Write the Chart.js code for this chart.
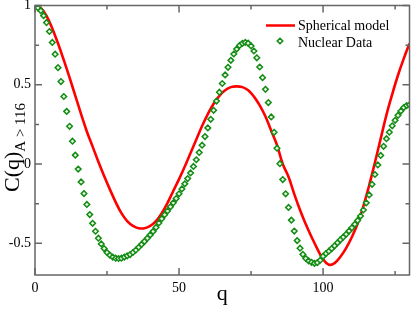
<!DOCTYPE html>
<html>
<head>
<meta charset="utf-8">
<script src="https://cdn.jsdelivr.net/npm/chart.js@4.4.1/dist/chart.umd.min.js"></script>
<style>
  html, body { margin: 0; padding: 0; background: #fff; }
  #wrap { width: 415px; height: 310px; }
</style>
</head>
<body>
<div id="wrap"><canvas id="corr"></canvas></div>
<script>
// Spherical model (red curve)
const qModel = [0, 2, 4, 6, 8, 10, 12, 14, 16, 18, 20, 22, 24, 26, 28, 30, 32, 34, 36, 38,
  40, 42, 44, 46, 48, 50, 52, 54, 56, 58, 60, 62, 64, 66, 68, 70, 72, 74, 76, 78,
  80, 82, 84, 86, 88, 90, 92, 94, 96, 98, 100, 102, 104, 106, 108, 110, 112, 114, 116, 118,
  120, 122, 124, 126, 128, 130];
const cModel = [1.0, 0.985, 0.935, 0.855, 0.76, 0.655, 0.545, 0.43, 0.315, 0.205, 0.11, 0.015, -0.075, -0.16, -0.24, -0.31, -0.36, -0.39, -0.405, -0.405,
  -0.39, -0.36, -0.31, -0.245, -0.17, -0.095, -0.015, 0.07, 0.155, 0.24, 0.315, 0.38, 0.43, 0.465, 0.485, 0.49, 0.485, 0.465, 0.425, 0.37,
  0.3, 0.21, 0.12, 0.0, -0.08, -0.19, -0.29, -0.38, -0.46, -0.535, -0.6, -0.635, -0.625, -0.585, -0.53, -0.46, -0.375, -0.265, -0.135, 0.01,
  0.16, 0.31, 0.44, 0.56, 0.665, 0.76];

// Nuclear data (green diamonds)
const qData = [0, 1, 2, 3, 4, 5, 6, 7, 8, 9, 10, 11, 12, 13, 14, 15, 16, 17, 18, 19,
  20, 21, 22, 23, 24, 25, 26, 27, 28, 29, 30, 31, 32, 33, 34, 35, 36, 37, 38, 39,
  40, 41, 42, 43, 44, 45, 46, 47, 48, 49, 50, 51, 52, 53, 54, 55, 56, 57, 58, 59,
  60, 61, 62, 63, 64, 65, 66, 67, 68, 69, 70, 71, 72, 73, 74, 75, 76, 77, 78, 79,
  80, 81, 82, 83, 84, 85, 86, 87, 88, 89, 90, 91, 92, 93, 94, 95, 96, 97, 98, 99,
  100, 101, 102, 103, 104, 105, 106, 107, 108, 109, 110, 111, 112, 113, 114, 115, 116, 117, 118, 119,
  120, 121, 122, 123, 124, 125, 126, 127, 128, 129, 130];
const cData = [1.0, 0.985, 0.967, 0.936, 0.892, 0.836, 0.767, 0.693, 0.608, 0.52, 0.426, 0.332, 0.238, 0.144, 0.056, -0.032, -0.113, -0.186, -0.255, -0.319,
  -0.374, -0.424, -0.468, -0.504, -0.533, -0.558, -0.575, -0.587, -0.594, -0.596, -0.594, -0.587, -0.579, -0.571, -0.558, -0.543, -0.525, -0.507, -0.488, -0.468,
  -0.447, -0.425, -0.4, -0.372, -0.345, -0.32, -0.296, -0.27, -0.245, -0.218, -0.188, -0.157, -0.125, -0.092, -0.056, -0.015, 0.027, 0.073, 0.119, 0.173,
  0.228, 0.282, 0.339, 0.397, 0.453, 0.508, 0.562, 0.61, 0.654, 0.694, 0.725, 0.748, 0.761, 0.767, 0.762, 0.745, 0.713, 0.67, 0.612, 0.545,
  0.471, 0.388, 0.297, 0.2, 0.1, 0.002, -0.098, -0.188, -0.274, -0.354, -0.423, -0.483, -0.531, -0.57, -0.596, -0.611, -0.62, -0.626, -0.622, -0.607,
  -0.582, -0.565, -0.55, -0.533, -0.516, -0.497, -0.478, -0.461, -0.443, -0.423, -0.402, -0.38, -0.356, -0.328, -0.29, -0.245, -0.195, -0.128, -0.066, -0.006,
  0.054, 0.112, 0.16, 0.201, 0.241, 0.276, 0.307, 0.334, 0.356, 0.369, 0.374];

const xMajor = [0, 50, 100];
const xMinor = [25, 75, 125];
const yMajor = [1, 0.5, 0, -0.5];
const yMinor = [0.75, 0.25, -0.25];

const serif = '"Liberation Serif", "DejaVu Serif", serif';
const red = '#ff0000';
const green = '#128c12';

// box, inward ticks, axis titles and legend
const frame = {
  id: 'frame',
  afterDraw(chart) {
    const { ctx, chartArea: a, scales: { x, y } } = chart;
    ctx.save();
    ctx.strokeStyle = '#666';
    ctx.lineWidth = 1.5;
    ctx.beginPath();
    const xt = (v, len) => {
      const px = x.getPixelForValue(v);
      ctx.moveTo(px, a.bottom); ctx.lineTo(px, a.bottom - len);
      ctx.moveTo(px, a.top); ctx.lineTo(px, a.top + len);
    };
    const yt = (v, len) => {
      const py = y.getPixelForValue(v);
      ctx.moveTo(a.left, py); ctx.lineTo(a.left + len, py);
      ctx.moveTo(a.right, py); ctx.lineTo(a.right - len, py);
    };
    xMajor.forEach(v => xt(v, 7));
    xMinor.forEach(v => xt(v, 4));
    yMajor.forEach(v => yt(v, 7));
    yMinor.forEach(v => yt(v, 4));
    ctx.stroke();
    ctx.strokeRect(a.left, a.top, a.right - a.left, a.bottom - a.top);

    // x title
    ctx.fillStyle = '#000';
    ctx.font = '22px ' + serif;
    ctx.textAlign = 'center';
    ctx.textBaseline = 'alphabetic';
    ctx.fillText('q', (a.left + a.right) / 2, 300);

    // y title with subscript
    ctx.save();
    ctx.translate(19, 192);
    ctx.rotate(-Math.PI / 2);
    ctx.textAlign = 'left';
    ctx.font = '22px ' + serif;
    ctx.fillText('C(q)', 0, 0);
    const w = ctx.measureText('C(q)').width;
    ctx.font = '15px ' + serif;
    ctx.fillText('A > 116', w, 6);
    ctx.restore();

    // legend
    const ds = chart.data.datasets;
    ctx.font = '14px ' + serif;
    ctx.textAlign = 'left';
    ctx.fillText(ds[0].label, 298, 30);
    ctx.fillText(ds[1].label, 298, 46.5);
    ctx.strokeStyle = red;
    ctx.lineWidth = 2.5;
    ctx.beginPath();
    ctx.moveTo(266, 25.5); ctx.lineTo(295, 25.5);
    ctx.stroke();
    ctx.strokeStyle = green;
    ctx.fillStyle = '#e8f5e8';
    ctx.lineWidth = 1.5;
    ctx.beginPath();
    ctx.moveTo(280, 38.2); ctx.lineTo(282.8, 41); ctx.lineTo(280, 43.8); ctx.lineTo(277.2, 41);
    ctx.closePath();
    ctx.fill();
    ctx.stroke();
    ctx.restore();
  }
};

new Chart(document.getElementById('corr'), {
  type: 'line',
  data: {
    datasets: [{
      label: 'Spherical model',
      data: qModel.map((q, i) => ({ x: q, y: cModel[i] })),
      borderColor: red,
      borderWidth: 2.6,
      pointRadius: 0,
      tension: 0.4,
      fill: false,
      order: 2
    }, {
      label: 'Nuclear Data',
      data: qData.map((q, i) => ({ x: q, y: cData[i] })),
      showLine: false,
      pointStyle: 'rectRot',
      pointRadius: 2.8,
      pointBorderWidth: 1.5,
      borderColor: green,
      backgroundColor: '#e8f5e8',
      order: 1
    }]
  },
  options: {
    responsive: true,
    maintainAspectRatio: false,
    animation: false,
    devicePixelRatio: 1,
    layout: { padding: { top: 5, right: 3, left: 0, bottom: 0 } },
    plugins: { legend: { display: false }, tooltip: { enabled: false } },
    scales: {
      x: {
        type: 'linear',
        min: 0,
        max: 130,
        grid: { display: false, drawTicks: false },
        border: { display: false },
        ticks: {
          stepSize: 25,
          padding: 5,
          color: '#000',
          font: { family: serif, size: 14 },
          callback: v => xMajor.includes(v) ? String(v) : ''
        },
        afterFit: s => { s.height = 35; s.paddingLeft = 0; s.paddingRight = 0; }
      },
      y: {
        min: -0.7,
        max: 1,
        grid: { display: false, drawTicks: false },
        border: { display: false },
        ticks: {
          stepSize: 0.25,
          padding: 4,
          color: '#000',
          font: { family: serif, size: 14 },
          callback: v => yMajor.includes(v) ? String(v) : ''
        },
        afterFit: s => { s.width = 35; s.paddingTop = 0; s.paddingBottom = 0; }
      }
    }
  },
  plugins: [frame]
});
</script>
</body>
</html>
